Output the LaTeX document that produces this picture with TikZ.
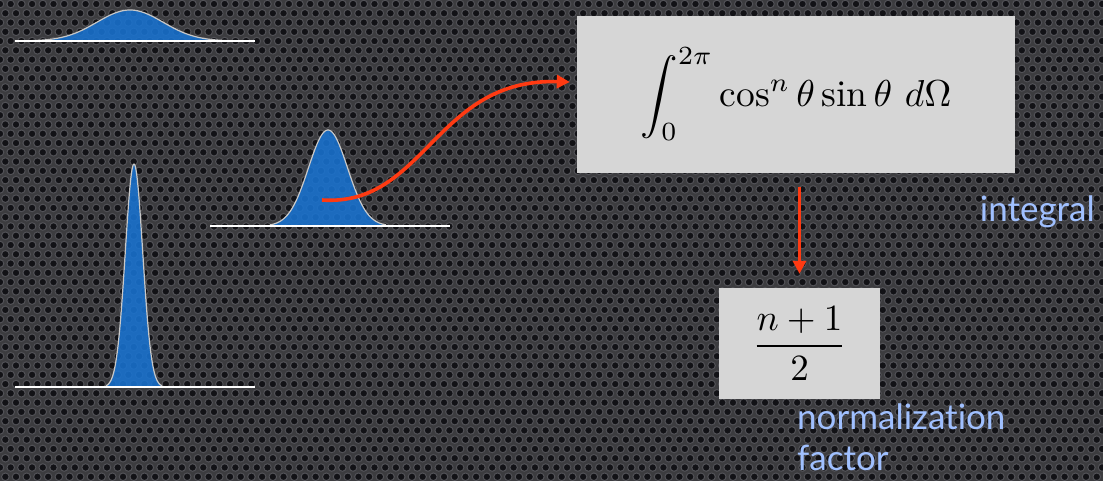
\documentclass[tikz,border=0pt]{standalone}
\usepackage{fontspec}
\usepackage{graphicx}
\newfontfamily\labelfont[Ligatures=NoCommon]{Lato}
\usetikzlibrary{arrows.meta}
\definecolor{bgcol}{RGB}{60,60,63}
\definecolor{holecol}{RGB}{18,18,22}
\definecolor{rimcol}{RGB}{82,82,87}
\definecolor{gblue}{RGB}{24,114,208}
\definecolor{arrowred}{RGB}{255,58,18}
\definecolor{boxgray}{RGB}{214,214,214}
\definecolor{labelblue}{RGB}{160,192,255}
\definecolor{curvegray}{RGB}{200,200,200}
\begin{document}
\begin{tikzpicture}[x=1pt,y=-1pt,
  mathbox/.style={fill=boxgray, inner sep=0pt},
  flow/.style={draw=arrowred, line width=3.6pt, -{Triangle[length=13pt,width=13pt]}},
  lbl/.style={text=labelblue, font=\labelfont\fontsize{35}{41}\selectfont, inner sep=0pt},
  gauss/.style={fill=gblue, fill opacity=0.88},
  gcurve/.style={draw=curvegray, line width=1.2pt},
  baseline/.style={draw=white, line width=1.5pt}]
\useasboundingbox (0,0) rectangle (1103,481);
\fill[bgcol] (0,0) rectangle (1103,481);
\foreach \r in {0,...,52} {
  \pgfmathsetmacro{\off}{mod(\r,2)*5.35}
  \pgfmathsetmacro{\yy}{4+\r*9.27}
  \filldraw[fill=holecol, draw=rimcol, line width=1pt]
    \foreach \c in {0,...,104} { ({\c*10.7+\off}, \yy) circle[radius=3.8] };
}
% gaussian 1 (wide)
\fill[gauss] (30,41) -- plot[domain=30:230, samples=90] (\x, {41-31*exp(-((\x-130)/33)*((\x-130)/33)/2)}) -- cycle;
\draw[gcurve] plot[domain=30:230, samples=90] (\x, {41-31*exp(-((\x-130)/33)*((\x-130)/33)/2)});
\draw[baseline] (15,41) -- (255,41);
% gaussian 2 (medium)
\fill[gauss] (270,226) -- plot[domain=270:386, samples=90] (\x, {226-96*exp(-((\x-328)/19.5)*((\x-328)/19.5)/2)}) -- cycle;
\draw[gcurve] plot[domain=270:386, samples=90] (\x, {226-96*exp(-((\x-328)/19.5)*((\x-328)/19.5)/2)});
\draw[baseline] (210,226) -- (450,226);
% gaussian 3 (narrow)
\fill[gauss] (106,387) -- plot[domain=106:162, samples=90] (\x, {387-223*exp(-((\x-134)/8.7)*((\x-134)/8.7)/2)}) -- cycle;
\draw[gcurve] plot[domain=106:162, samples=90] (\x, {387-223*exp(-((\x-134)/8.7)*((\x-134)/8.7)/2)});
\draw[baseline] (15,387) -- (255,387);
% boxes
\node[mathbox, minimum width=438pt, minimum height=157pt] (integ) at (796,94.5)
  {\scalebox{3.75}{$\displaystyle\int_0^{2\pi}\cos^n\theta\sin\theta\ d\Omega$}};
\node[mathbox, minimum width=161pt, minimum height=111pt] (norm) at (799.5,343.5)
  {\scalebox{3.7}{$\displaystyle\frac{n+1}{2}$}};
% arrows
\coordinate (g2c) at (322,200);
\draw[flow] (g2c) .. controls (425,207) and (435,78) .. ([xshift=-7pt,yshift=12.5pt]integ.west);
\draw[flow, shorten <=14pt, shorten >=14pt] (integ.south -| norm.north) -- (norm.north);
% labels
\node[lbl, anchor=base east] (lint) at (1095,222) {integral};
\node[lbl, anchor=base west] (lnorm) at (797,429) {normalization};
\node[lbl, anchor=base west] (lfac) at (797,470) {factor};
\end{tikzpicture}
\end{document}
